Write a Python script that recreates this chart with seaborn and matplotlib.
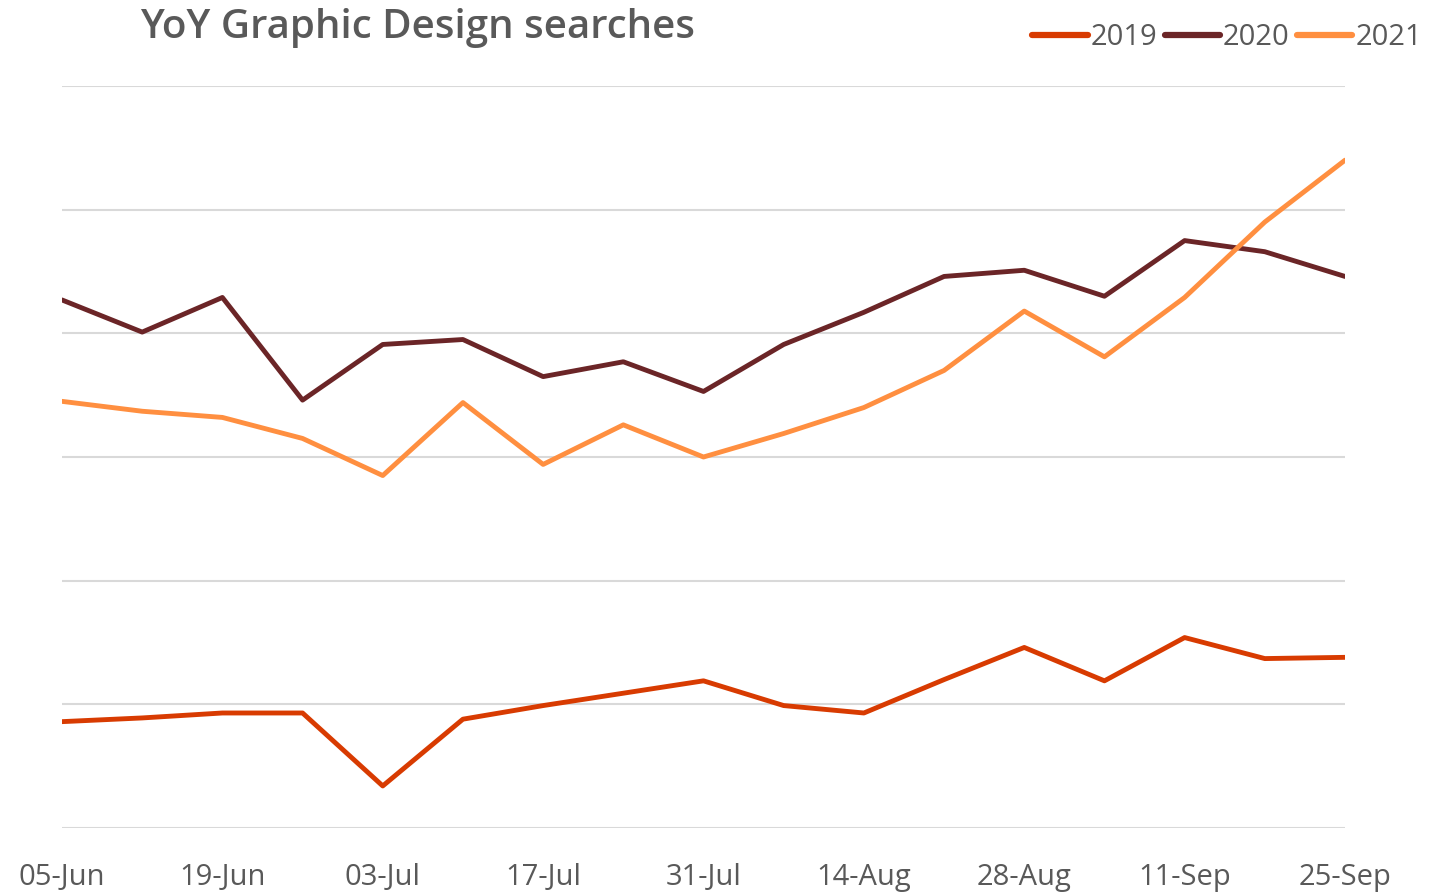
import pandas as pd
import numpy as np
import seaborn as sns
import matplotlib.pyplot as plt

# weekly dates, 05-Jun to 25-Sep
weeks = ['05-Jun', '12-Jun', '19-Jun', '26-Jun', '03-Jul', '10-Jul', '17-Jul', '24-Jul',
         '31-Jul', '07-Aug', '14-Aug', '21-Aug', '28-Aug', '04-Sep', '11-Sep', '18-Sep', '25-Sep']

# values (arbitrary index)
s2019 = [8.6, 8.9, 9.3, 9.3, 3.4, 8.8, 9.9, 10.9, 11.9, 9.9, 9.3, 12.0, 14.6, 11.9, 15.4, 13.7, 13.8]
s2020 = [42.7, 40.1, 42.9, 34.6, 39.1, 39.5, 36.5, 37.7, 35.3, 39.1, 41.7, 44.6, 45.1, 43.0, 47.5, 46.6, 44.6]
s2021 = [34.5, 33.7, 33.2, 31.5, 28.5, 34.4, 29.4, 32.6, 30.0, 31.9, 34.0, 37.0, 41.8, 38.1, 42.9, 49.0, 54.0]

years = ['2019', '2020', '2021']
colors = ['#D83B01', '#6B2527', '#FF8F40']

df = pd.DataFrame({
    'week': list(range(len(weeks))) * 3,
    'value': s2019 + s2020 + s2021,
    'year': [y for y in years for _ in weeks],
})

sns.set_theme(style='white')
plt.rcParams['font.family'] = ['Open Sans', 'DejaVu Sans']

fig = plt.figure(figsize=(14.48, 8.92), dpi=100)
ax = fig.add_axes([62 / 1448, 1 - 828 / 892, (1345 - 62) / 1448, (828 - 86) / 892])

sns.lineplot(data=df, x='week', y='value', hue='year', palette=colors,
             linewidth=3.5, ax=ax, legend=True)

ax.set_xlim(0, len(weeks) - 1)
ax.set_ylim(0, 60)
ax.set_yticks(np.arange(0, 61, 10))
ax.yaxis.grid(True, color='#D9D9D9', linewidth=1.5)
ax.set_axisbelow(True)
ax.tick_params(axis='y', left=False, labelleft=False)
ax.set_xticks(range(0, len(weeks), 2))
ax.set_xticklabels(weeks[::2], fontsize=21, color='#595959')
ax.tick_params(axis='x', bottom=False, pad=19)
ax.set_xlabel('')
ax.set_ylabel('')
for sp in ax.spines.values():
    sp.set_visible(False)

handles, labels = ax.get_legend_handles_labels()
for h in handles:
    h.set_linewidth(4.5)
ax.get_legend().remove()
fig.legend(handles, labels, loc='upper right', bbox_to_anchor=(1422 / 1448, 1 - 23 / 892), ncol=3,
           frameon=False, fontsize=21, handlelength=1.9, handletextpad=0.1,
           columnspacing=0.25, borderpad=0, borderaxespad=0, labelcolor='#595959')

fig.text(140 / 1448, 1 - 28 / 892, 'YoY Graphic Design searches', fontsize=29,
         fontweight='semibold', color='#595959', va='center', ha='left')

fig.savefig('out.png', dpi=100)
